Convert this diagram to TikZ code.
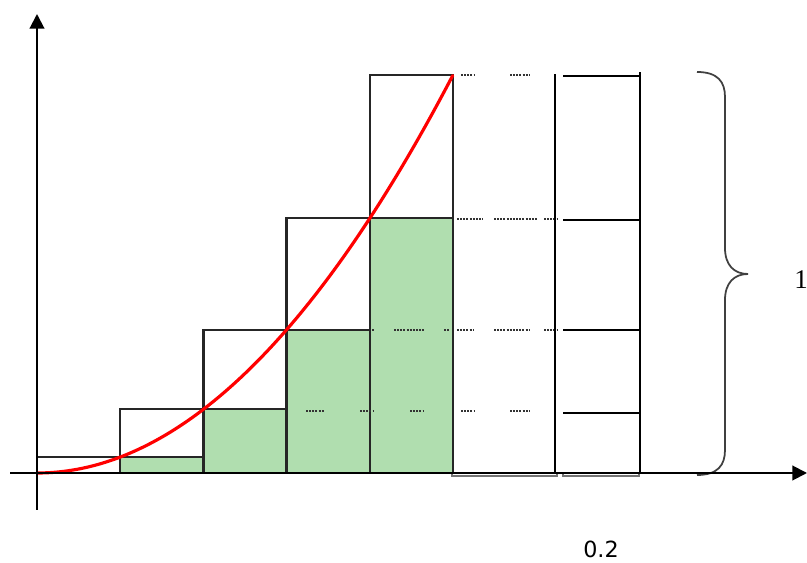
\documentclass[tikz,border=0pt]{standalone}
\usepackage{fontspec}
\newfontfamily\labelsans{DejaVu Sans}
\newfontfamily\labelserif{Liberation Serif}
\usetikzlibrary{arrows.meta,calc}
\definecolor{areaGreen}{HTML}{B0DEAF}
\definecolor{curveRed}{HTML}{FF0000}
\tikzset{
  >={Triangle[length=4.4mm,width=4.4mm]},
  axis/.style={->, line width=1.7pt, draw=black},
  upperbox/.style={draw=black!85, line width=1.9pt},
  lowerbox/.style={draw=black!85, fill=areaGreen, line width=1.9pt},
  parabola/.style={draw=curveRed, line width=2.7pt, line cap=round},
  dotrow/.style={draw=black!80, line width=1.6pt, dash pattern=on 1.6pt off 1.1pt},
  strip/.style={draw=black, line width=1.8pt},
  underline/.style={draw=black!55, line width=1.6pt},
  bracepath/.style={draw=black!75, line width=1.5pt},
}

\begin{document}
\begin{tikzpicture}[x=0.03cm,y=0.03cm]
  \useasboundingbox (0,0) rectangle (807,563);

  % axes end points
  \coordinate (O) at (37,90);
  \coordinate (xstart) at (10,90);
  \coordinate (xend) at (807,90);
  \coordinate (ystart) at (37,53);
  \coordinate (yend) at (37,549);

  % upper and lower sums, width 0.2
  \begin{scope}[shift={(O)}, xscale=416, yscale=398]
    \foreach \i in {1,...,5}{
      \draw[upperbox] ({(\i-1)/5},0) rectangle ({\i/5},{(\i/5)^2});
    }
    \foreach \i in {2,...,5}{
      \draw[lowerbox] ({(\i-1)/5},0) rectangle ({\i/5},{((\i-1)/5)^2});
    }
    \draw[parabola] plot[domain=0:1, samples=60, smooth] (\x,{\x*\x});
  \end{scope}

  % dotted continuation
  \foreach \y/\a/\b in {488/461/474, 488/510/529,
                        344/457/483, 344/494/537, 344/544/557,
                        233/394/424, 233/444/450, 233/457/474, 233/494/529, 233/544/558,
                        152/306/324, 152/360/374, 152/410/424, 152/461/474, 152/510/529}{
    \draw[dotrow] (\a,\y) -- (\b,\y);
  }
  \draw[dotrow] (372,233) -- (374,233);

  % last strip
  \draw[strip] (555,90) -- (555,489);
  \draw[strip] (640,90) -- (640,491);
  \foreach \y in {487,343,233,150}{\draw[strip] (563,\y) -- (640,\y);}

  % marks under the axis
  \draw[underline] (452,90) -- (452,87) -- (557,87) -- (557,90);
  \draw[underline] (563,90) -- (563,87) -- (639,87) -- (639,90);

  % brace of height 1
  \draw[bracepath] (697,491) .. controls (718,491) and (725,481) .. (725,466) -- (725,315)
    .. controls (725,298) and (734,289) .. (748,289)
    .. controls (734,289) and (725,280) .. (725,263) -- (725,113)
    .. controls (725,98) and (718,88) .. (697,88);

  \draw[axis] (xstart) -- (xend);
  \draw[axis] (ystart) -- (yend);

  \node[font=\labelserif\fontsize{23}{26}\selectfont] (heightlabel) at (801,283) {1};
  \node[font=\labelsans\fontsize{19}{22}\selectfont] (widthlabel) at (601,14) {0.2};
\end{tikzpicture}
\end{document}
